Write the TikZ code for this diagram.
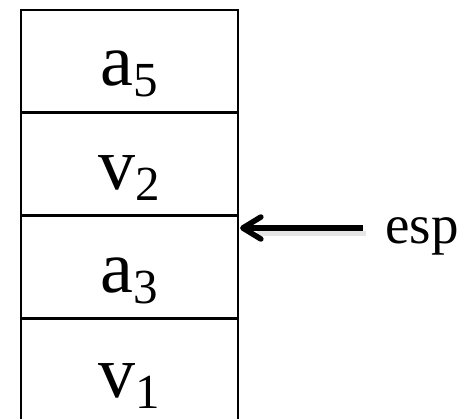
\documentclass[tikz,border=0pt]{standalone}
\usepackage{fontspec}
\setmainfont{Liberation Serif}
\usetikzlibrary{arrows.meta}
\begin{document}
\begin{tikzpicture}[x=1pt,y=-1pt,
  cell/.style={draw=black,line width=2.2pt,minimum width=217pt,minimum height=103pt,inner sep=0pt},
  lbl/.style={anchor=base,inner sep=0pt,font=\fontsize{74}{74}\selectfont},
  ptr/.style={line width=5.5pt,-{Straight Barb[length=18pt,width=22pt,line width=5.5pt,line cap=round,line join=round]}},
  shade/.style={line width=5pt,draw=black!10}
]
\useasboundingbox (0,0) rectangle (461,419);
\newcommand{\subtxt}[1]{\raisebox{-11pt}{\fontsize{49}{49}\selectfont #1}}
\node[cell] (c1) at (129.5,61.5) {};
\node[cell] (c2) at (129.5,164) {};
\node[cell] (c3) at (129.5,267) {};
\node[cell] (c4) at (129.5,370) {};
\node[lbl] (l1) at (129.5,86) {a\subtxt{5}};
\node[lbl] (l2) at (129.5,190) {v\subtxt{2}};
\node[lbl] (l3) at (129.5,293) {a\subtxt{3}};
\node[lbl] (l4) at (129.5,398) {v\subtxt{1}};
\node[anchor=base west,inner sep=0pt,font=\fontsize{55}{55}\selectfont] (esp) at (385,244) {esp};
\coordinate (tail) at (363,228);
\coordinate (tailsh) at (366,234);
\draw[shade] (tailsh) -- ([xshift=18pt]tailsh -| c3.east);
\draw[ptr] (tail) -- ([xshift=1pt]tail -| c3.east);
\end{tikzpicture}
\end{document}
